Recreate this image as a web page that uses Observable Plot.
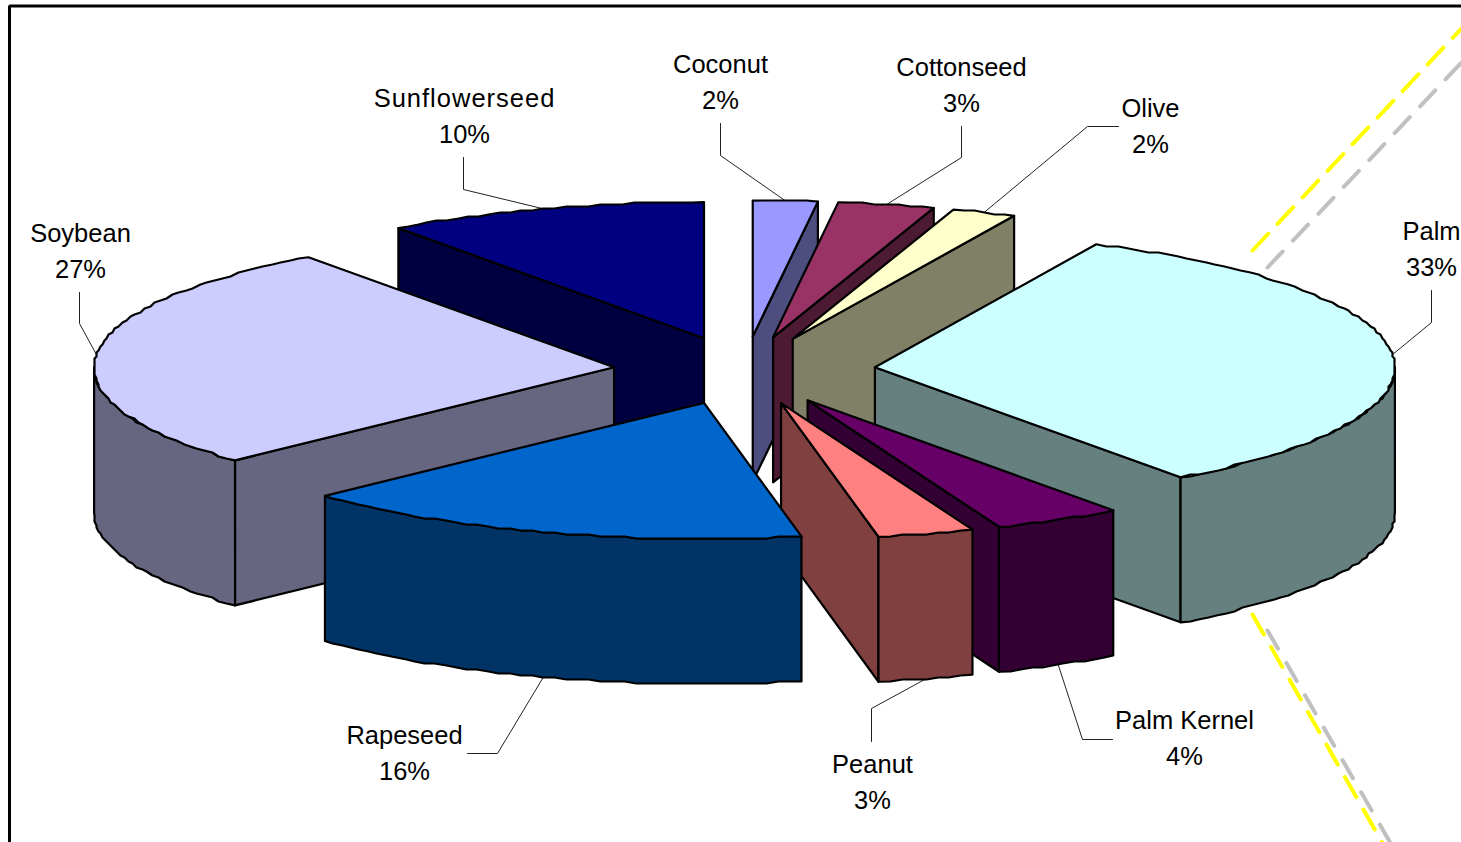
<!DOCTYPE html>
<html>
<head>
<meta charset="utf-8">
<script src="https://cdn.jsdelivr.net/npm/d3@7"></script>
<script src="https://cdn.jsdelivr.net/npm/@observablehq/plot@0.6"></script>
<style>
  html, body { margin: 0; padding: 0; background: #fff; overflow: hidden; }
  svg { display: block; }
</style>
</head>
<body>
<div id="chart"></div>
<script>
// World vegetable oil shares, clockwise from twelve o'clock.
const categories = ["Coconut", "Cottonseed", "Olive", "Palm", "Palm Kernel", "Peanut", "Rapeseed", "Soybean", "Sunflowerseed"];
const shares = [2, 3, 2, 33, 4, 3, 16, 27, 10];
const topColors = ["#9999FF", "#993366", "#FFFFCC", "#CCFFFF", "#660066", "#FF8080", "#0066CC", "#CCCCFF", "#000080"];
const sideColors = ["#4D4D80", "#4D1A33", "#808066", "#667F7F", "#330033", "#804040", "#003366", "#666680", "#000040"];

// Back-to-front painting order for the exploded slices.
const paintOrder = ["Sunflowerseed", "Coconut", "Cottonseed", "Olive", "Soybean", "Palm", "Palm Kernel", "Peanut", "Rapeseed"];

// Pie projection: an ellipse seen from above, extruded downward.
const W = 1461, H = 842;
const centre = [744, 370], radius = [520, 136], explode = [131, 34], depth = 145;
const grid = 2, arcStep = 1.3;
const rad = Math.PI / 180;
const snap = v => Math.round(v / grid) * grid;

let running = 0;
const slices = categories.map((name, i) => {
  const a0 = running * 3.6;
  running += shares[i];
  const a1 = running * 3.6, mid = (a0 + a1) / 2;
  const apex = [centre[0] + explode[0] * Math.sin(mid * rad), centre[1] - explode[1] * Math.cos(mid * rad)];
  return {name, share: shares[i], top: topColors[i], side: sideColors[i], a0, a1, mid, apex};
});

const rim = (s, a, dz = 0) => {
  const x = s.apex[0] + radius[0] * Math.sin(a * rad);
  const y = s.apex[1] - radius[1] * Math.cos(a * rad);
  return [x, y + dz];
};
// Arc sampled coarsely and snapped, which gives the rim its slightly stepped outline.
const arc = (s, from, to, dz = 0) => {
  const n = Math.max(1, Math.round((to - from) / arcStep));
  return d3.range(n + 1).map(k => {
    const a = from + (to - from) * k / n;
    const [x, y] = rim(s, a);
    const onEnd = k === 0 || k === n;
    return [onEnd ? x : snap(x), (onEnd ? y : snap(y)) + dz];
  });
};

const facePolys = s => {
  const faces = [];
  const radial = a => {
    const e = rim(s, a);
    faces.push({fill: s.side, pts: [s.apex, e, [e[0], e[1] + depth], [s.apex[0], s.apex[1] + depth]]});
  };
  if (Math.sin(s.a0 * rad) < 0) radial(s.a0);
  if (Math.sin(s.a1 * rad) > 0) radial(s.a1);
  const from = Math.max(s.a0, 90), to = Math.min(s.a1, 270);
  if (to > from) {
    faces.push({fill: s.side, pts: [...arc(s, from, to), ...arc(s, from, to, depth).reverse()]});
  }
  faces.push({fill: s.top, pts: [s.apex, ...arc(s, s.a0, s.a1)]});
  return faces;
};

const sliceByName = new Map(slices.map(s => [s.name, s]));
const faces = paintOrder.flatMap(n => facePolys(sliceByName.get(n)));

// Label placement: centre of the two text lines, and the leader's start and elbow.
const labelLayout = {
  "Coconut":       {x: 720,  y: 64,  from: [720, 123],  elbow: [720, 155]},
  "Cottonseed":    {x: 961,  y: 67,  from: [961, 126],  elbow: [961, 157]},
  "Olive":         {x: 1150, y: 108, from: [1118, 126], elbow: [1087, 126]},
  "Palm":          {x: 1431, y: 231, from: [1431, 290], elbow: [1431, 322]},
  "Palm Kernel":   {x: 1184, y: 720, from: [1112, 739], elbow: [1082, 739]},
  "Peanut":        {x: 872,  y: 764, from: [871, 741],  elbow: [871, 708]},
  "Rapeseed":      {x: 404,  y: 735, from: [467, 753],  elbow: [497, 753]},
  "Soybean":       {x: 80,   y: 233, from: [79, 292],   elbow: [79, 323]},
  "Sunflowerseed": {x: 464,  y: 98,  from: [463, 157],  elbow: [463, 189]}
};
const lineGap = 36;

const leaders = slices.map(s => {
  const l = labelLayout[s.name];
  const inFront = s.mid > 90 && s.mid < 270;
  return [l.from, l.elbow, rim(s, s.mid, inFront ? depth : 0)];
});
const nameRows = slices.map(s => ({x: labelLayout[s.name].x, y: labelLayout[s.name].y, t: s.name}));
const shareRows = slices.map(s => ({x: labelLayout[s.name].x, y: labelLayout[s.name].y + lineGap, t: `${s.share}%`}));

// Dashed guide lines that run off the right side, behind the pie.
const guides = [
  {stroke: "#FFFF00", pts: [[1252, 250], [1461, 28]], dash: "23 13.5"},
  {stroke: "#C0C0C0", pts: [[1267, 267], [1461, 62]], dash: "22 15"},
  {stroke: "#C0C0C0", pts: [[1267, 630], [1392, 846]], dash: "21 16.4"},
  {stroke: "#FFFF00", pts: [[1252, 614], [1385, 848]], dash: "23 14.4"}
];
const frame = [[9, H], [9, 5.5], [W, 5.5]];

const xy = {x: d => d[0], y: d => d[1]};
const textOpts = {x: "x", y: "y", text: "t", fontSize: 25.5, fontFamily: "Liberation Sans, Arial, sans-serif",
                  textAnchor: "middle", lineAnchor: "middle", fill: "#000"};

const chart = Plot.plot({
  width: W,
  height: H,
  margin: 0,
  x: {domain: [0, W], range: [0, W], axis: null},
  y: {domain: [0, H], range: [0, H], axis: null},
  marks: [
    Plot.line(frame, {...xy, stroke: "#000", strokeWidth: 3, strokeLinejoin: "miter"}),
    ...guides.map(g => Plot.line(g.pts, {...xy, stroke: g.stroke, strokeWidth: 4, strokeDasharray: g.dash})),
    ...leaders.map(p => Plot.line(p, {...xy, stroke: "#222", strokeWidth: 1})),
    ...faces.map(f => Plot.line(f.pts, {...xy, curve: "linear-closed", fill: f.fill, stroke: "#000", strokeWidth: 2.2})),
    Plot.text(nameRows, textOpts),
    Plot.text(shareRows, textOpts)
  ]
});
document.getElementById("chart").appendChild(chart);

// The longest name is set slightly wider than the others.
d3.select(chart).selectAll("text").filter(function () { return this.textContent === "Sunflowerseed"; })
  .attr("letter-spacing", 1);
</script>
</body>
</html>
